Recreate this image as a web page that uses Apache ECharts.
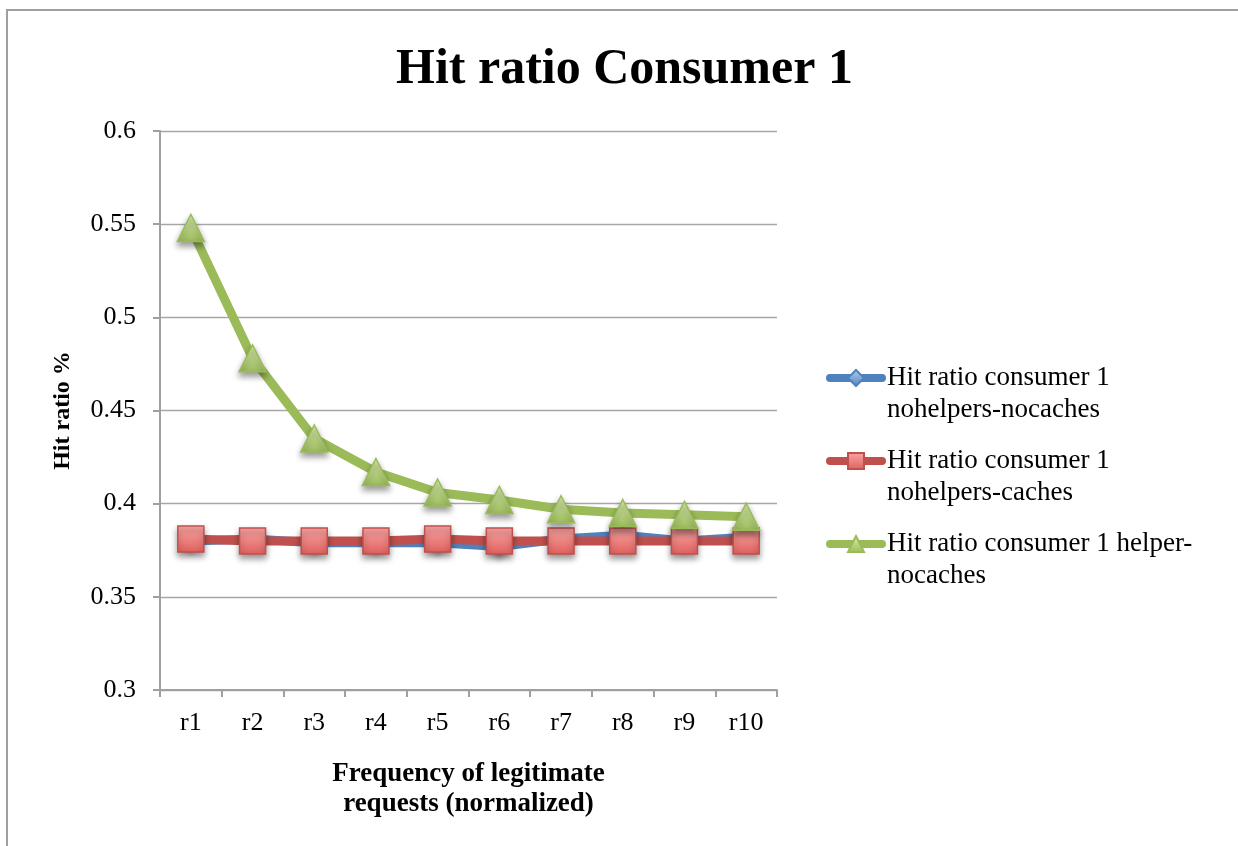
<!DOCTYPE html>
<html>
<head>
<meta charset="utf-8">
<script src="https://cdn.jsdelivr.net/npm/echarts@6/dist/echarts.min.js"></script>
<style>
  html, body { margin: 0; padding: 0; background: #fff; }
  #chart { width: 1238px; height: 846px; }
</style>
</head>
<body>
<div id="chart"></div>
<script>
// Request frequency buckets on the x axis
const categories = ['r1', 'r2', 'r3', 'r4', 'r5', 'r6', 'r7', 'r8', 'r9', 'r10'];

// Hit ratio of consumer 1 per configuration
const noHelpersNoCaches = [0.380, 0.381, 0.379, 0.379, 0.379, 0.377, 0.381, 0.383, 0.380, 0.382];
const noHelpersCaches   = [0.381, 0.380, 0.380, 0.380, 0.381, 0.380, 0.380, 0.380, 0.380, 0.380];
const helperNoCaches    = [0.548, 0.478, 0.435, 0.417, 0.406, 0.402, 0.397, 0.395, 0.394, 0.393];

const seriesNames = [
  'Hit ratio consumer 1\nnohelpers-nocaches',
  'Hit ratio consumer 1\nnohelpers-caches',
  'Hit ratio consumer 1 helper-\nnocaches'
];

const FONT = '"Liberation Serif", "DejaVu Serif", serif';

function vGrad(top, bottom) {
  return { type: 'linear', x: 0, y: 0, x2: 0, y2: 1,
           colorStops: [{ offset: 0, color: top }, { offset: 1, color: bottom }] };
}

const markerShadow = { shadowColor: 'rgba(0,0,0,0.4)', shadowBlur: 6, shadowOffsetY: 4 };

function lineSeries(name, data, symbol, size, lineColor, fillTop, fillBottom, border) {
  return {
    name, type: 'line', data, symbol, symbolSize: size,
    lineStyle: { color: lineColor, width: 9, cap: 'round', join: 'round' },
    itemStyle: Object.assign({ color: vGrad(fillTop, fillBottom), borderColor: border, borderWidth: 1.5 }, markerShadow),
    emphasis: { disabled: true },
    animation: false
  };
}

const chart = echarts.init(document.getElementById('chart'), null, { renderer: 'canvas' });

chart.setOption({
  backgroundColor: '#ffffff',
  animation: false,
  graphic: [{
    type: 'rect', silent: true, z: -10,
    shape: { x: 7, y: 10, width: 1400, height: 1000 },
    style: { fill: 'none', stroke: '#a0a0a0', lineWidth: 2 }
  }],
  title: {
    text: 'Hit ratio Consumer 1',
    left: 391,
    top: 40,
    textStyle: { fontFamily: FONT, fontWeight: 'bold', fontSize: 50, color: '#000' }
  },
  grid: { left: 160, right: 461, top: 131, bottom: 156, containLabel: false },
  legend: {
    orient: 'vertical',
    left: 821,
    top: 325,
    itemWidth: 52,
    itemHeight: 20,
    itemGap: -13,
    data: seriesNames,
    // a blank first row keeps the first text row level with the legend mark
    formatter: name => ' \n' + name,
    lineStyle: { width: 8, cap: 'round' },
    textStyle: { fontFamily: FONT, fontSize: 27, color: '#000', lineHeight: 32 }
  },
  xAxis: {
    type: 'category',
    data: categories,
    boundaryGap: true,
    name: 'Frequency of legitimate\nrequests (normalized)',
    nameLocation: 'middle',
    nameGap: 69,
    nameTextStyle: { fontFamily: FONT, fontWeight: 'bold', fontSize: 27, color: '#000', lineHeight: 30, verticalAlign: 'top' },
    axisLine: { lineStyle: { color: '#a0a0a0', width: 2 } },
    axisTick: { show: true, length: 7, alignWithLabel: false, lineStyle: { color: '#a0a0a0', width: 2 } },
    axisLabel: { fontFamily: FONT, fontSize: 26, color: '#000', margin: 20 },
    splitLine: { show: false }
  },
  yAxis: {
    type: 'value',
    min: 0.3,
    max: 0.6,
    interval: 0.05,
    name: 'Hit ratio %',
    nameLocation: 'middle',
    nameGap: 85,
    nameRotate: 90,
    nameTextStyle: { fontFamily: FONT, fontWeight: 'bold', fontSize: 24, color: '#000' },
    axisLine: { show: true, lineStyle: { color: '#a0a0a0', width: 2 } },
    axisTick: { show: true, length: 7, lineStyle: { color: '#a0a0a0', width: 2 } },
    axisLabel: { fontFamily: FONT, fontSize: 26, color: '#000', margin: 24,
                 formatter: v => String(Math.round(v * 100) / 100) },
    splitLine: { show: true, lineStyle: { color: '#a6a6a6', width: 1.4 } }
  },
  series: [
    lineSeries(seriesNames[0], noHelpersNoCaches, 'diamond', 16, '#4f81bd', '#b9d0ee', '#4f81bd', '#4f81bd'),
    lineSeries(seriesNames[1], noHelpersCaches, 'rect', 26, '#c0504d', '#f9a6a4', '#e0605d', '#c0504d'),
    lineSeries(seriesNames[2], helperNoCaches, 'triangle', 27, '#9bbb59', '#dcefb4', '#9bbb59', '#9bbb59')
  ]
});
</script>
</body>
</html>
